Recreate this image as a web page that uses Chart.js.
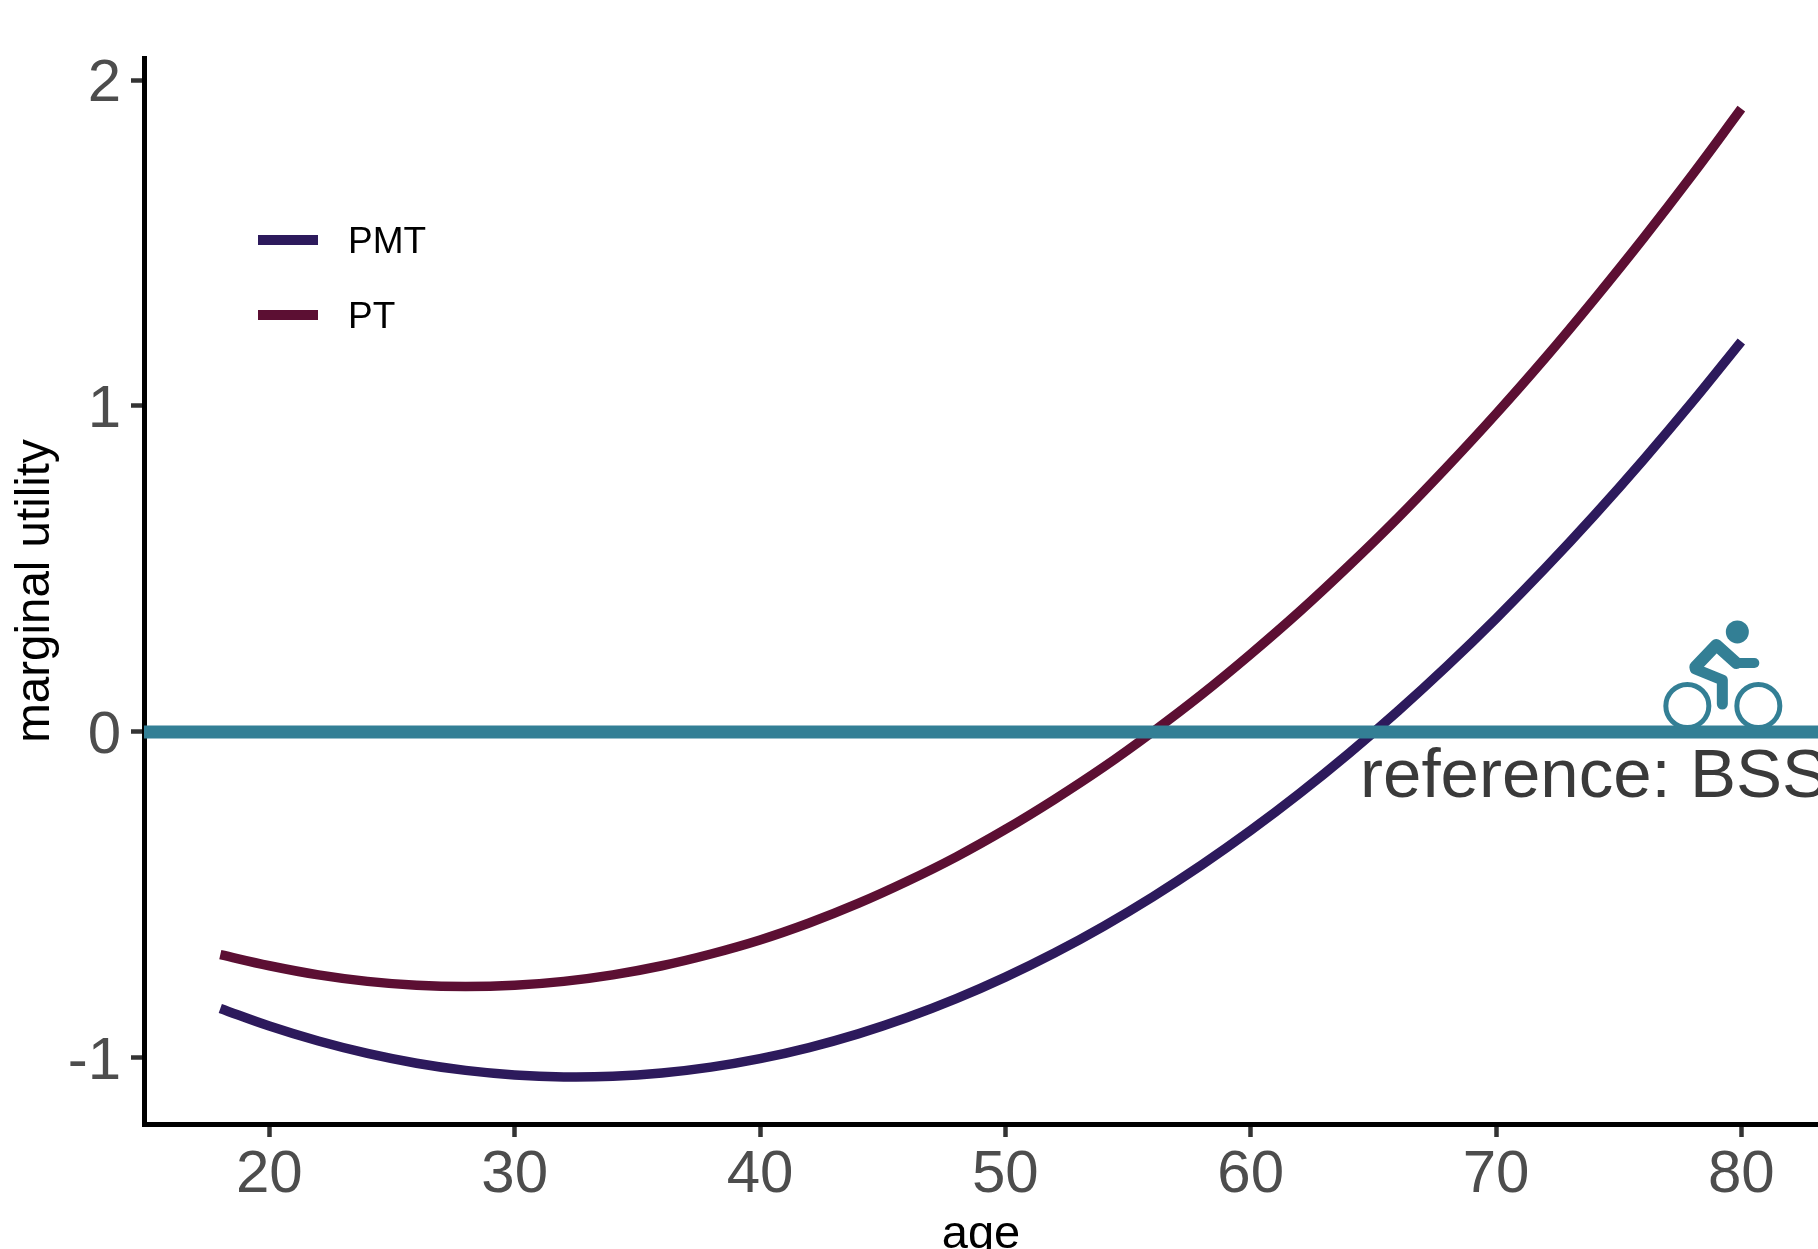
<!DOCTYPE html>
<html>
<head>
<meta charset="utf-8">
<title>marginal utility by age</title>
<script src="https://cdn.jsdelivr.net/npm/chart.js@4"></script>
<style>
body { margin: 0; background: #fff; overflow: hidden; }
canvas { display: block; }
</style>
</head>
<body>
<canvas id="myChart" width="1818" height="1249"></canvas>
<script>
// values
const ages = [18, 20, 22, 24, 26, 28, 30, 32, 34, 36, 38, 40, 42, 44, 46, 48, 50, 52, 54, 56, 58, 60, 62, 64, 66, 68, 70, 72, 74, 76, 78, 80];
const pmtValues = [-0.848, -0.902, -0.948, -0.986, -1.016, -1.038, -1.052, -1.058, -1.056, -1.046, -1.028, -1.002, -0.968, -0.926, -0.876, -0.818, -0.752, -0.678, -0.596, -0.506, -0.408, -0.302, -0.188, -0.066, 0.064, 0.202, 0.348, 0.502, 0.664, 0.834, 1.012, 1.198];
const ptValues = [-0.683, -0.717, -0.745, -0.765, -0.777, -0.781, -0.777, -0.765, -0.745, -0.717, -0.681, -0.638, -0.586, -0.526, -0.458, -0.383, -0.299, -0.207, -0.108, 0, 0.115, 0.239, 0.370, 0.510, 0.657, 0.813, 0.976, 1.147, 1.327, 1.514, 1.709, 1.912];
const referenceAges = [14.89, 83.125];
const referenceValues = [0, 0];
const xTicks = [20, 30, 40, 50, 60, 70, 80];
const yTicks = [-1, 0, 1, 2];

const pmtColor = '#2d1a5c';
const ptColor = '#5c0f33';
const refColor = '#337f95';

function toPoints(xs, ys) {
    return xs.map((x, i) => ({ x: x, y: ys[i] }));
}

// PMT / PT legend inside the plot
const legendPlugin = {
    id: 'innerLegend',
    afterDraw(chart) {
        const c = chart.ctx;
        const rows = [chart.data.datasets[1], chart.data.datasets[2]];
        c.save();
        rows.forEach((ds, i) => {
            const y = 240 + i * 75;
            c.fillStyle = ds.borderColor;
            c.fillRect(258, y - 5, 60, 10);
            c.fillStyle = '#000';
            c.font = '37px "Liberation Sans"';
            c.textBaseline = 'middle';
            c.textAlign = 'left';
            c.fillText(ds.label, 348, y + 3);
        });
        c.restore();
    }
};

// "reference: BSS" label and the bike icon, anchored on the zero line
const referencePlugin = {
    id: 'referenceMark',
    afterDraw(chart) {
        const c = chart.ctx;
        const zero = chart.scales.y.getPixelForValue(0);
        const left = chart.scales.x.getPixelForValue(64.46);
        const bx = chart.scales.x.getPixelForValue(80);
        c.save();
        c.fillStyle = '#3a3a3a';
        c.font = '69px "Liberation Sans"';
        c.textBaseline = 'alphabetic';
        c.textAlign = 'left';
        c.fillText('reference: BSS', left, zero + 65);

        c.strokeStyle = refColor;
        c.fillStyle = refColor;
        c.lineWidth = 5;
        [-54, 17].forEach(dx => {
            c.beginPath();
            c.arc(bx + dx, zero - 26, 21.5, 0, Math.PI * 2);
            c.stroke();
        });
        c.beginPath();
        c.arc(bx - 4, zero - 100, 11.5, 0, Math.PI * 2);
        c.fill();
        c.lineCap = 'round';
        c.lineJoin = 'round';
        c.lineWidth = 11;
        c.beginPath();
        c.moveTo(bx - 19, zero - 52);
        c.lineTo(bx - 19, zero - 28);
        c.moveTo(bx - 19, zero - 52);
        c.lineTo(bx - 46, zero - 63);
        c.stroke();
        c.lineWidth = 13;
        c.beginPath();
        c.moveTo(bx - 46, zero - 65);
        c.lineTo(bx - 25, zero - 87);
        c.lineTo(bx - 5, zero - 69);
        c.lineWidth = 12;
        c.stroke();
        c.lineWidth = 10;
        c.beginPath();
        c.moveTo(bx - 5, zero - 69);
        c.lineTo(bx + 13, zero - 69);
        c.stroke();
        c.restore();
    }
};

const ctx = document.getElementById('myChart').getContext('2d');
const myChart = new Chart(ctx, {
    type: 'line',
    data: {
        datasets: [
            { label: 'reference', data: toPoints(referenceAges, referenceValues), borderColor: refColor, borderWidth: 13, order: 1 },
            { label: 'PMT', data: toPoints(ages, pmtValues), borderColor: pmtColor, borderWidth: 9.5, order: 2 },
            { label: 'PT', data: toPoints(ages, ptValues), borderColor: ptColor, borderWidth: 9.5, order: 3 }
        ]
    },
    plugins: [legendPlugin, referencePlugin],
    options: {
        responsive: false,
        animation: false,
        layout: { padding: { top: 58 } },
        elements: { point: { radius: 0 }, line: { tension: 0.4, borderCapStyle: 'butt' } },
        plugins: { legend: { display: false }, tooltip: { enabled: false } },
        scales: {
            x: {
                type: 'linear',
                min: 14.89,
                max: 83.125,
                afterBuildTicks: axis => { axis.ticks = xTicks.map(v => ({ value: v })); },
                afterFit: axis => { axis.height = 125; },
                border: { color: '#000', width: 5 },
                grid: { drawOnChartArea: false, drawTicks: true, tickLength: 13, tickWidth: 4.5, tickColor: '#333' },
                ticks: { color: '#4d4d4d', font: { family: 'Liberation Sans', size: 60 }, padding: 2, maxRotation: 0, autoSkip: false },
                title: { display: true, text: 'age', color: '#000', font: { family: 'Liberation Sans', size: 47, lineHeight: 0.6 }, padding: 0 }
            },
            y: {
                min: -1.2025,
                max: 2.0675,
                afterBuildTicks: axis => { axis.ticks = yTicks.map(v => ({ value: v })); },
                afterFit: axis => { axis.width = 144; },
                border: { color: '#000', width: 5 },
                grid: { drawOnChartArea: false, drawTicks: true, tickLength: 13, tickWidth: 4.5, tickColor: '#333' },
                // empty first line plus a small line height nudges the digits down onto the tick
                ticks: { color: '#4d4d4d', font: { family: 'Liberation Sans', size: 60, lineHeight: '8px' }, padding: 10, autoSkip: false, callback: v => ['', String(v)] },
                title: { display: true, text: 'marginal utility', color: '#000', font: { family: 'Liberation Sans', size: 47.5 }, padding: { top: 7, bottom: 0 } }
            }
        }
    }
});
</script>
</body>
</html>
